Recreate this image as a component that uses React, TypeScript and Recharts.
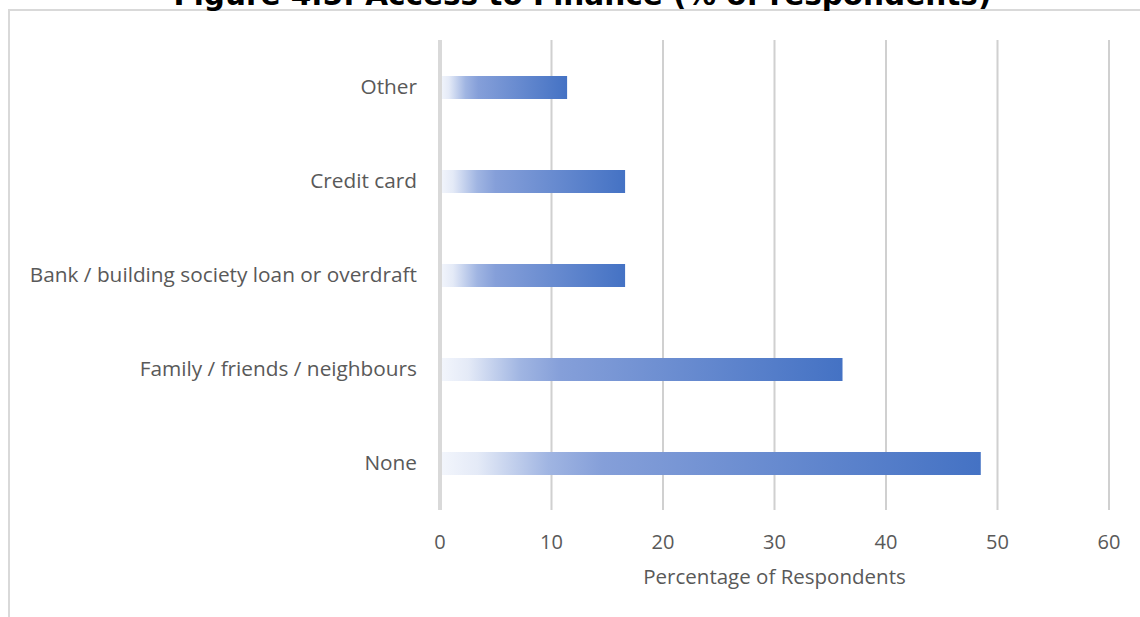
import React from "react";
import { BarChart, Bar, XAxis, YAxis, CartesianGrid, Label } from "recharts";

const categories = [
  "Other",
  "Credit card",
  "Bank / building society loan or overdraft",
  "Family / friends / neighbours",
  "None",
];
const percentages = [11.4, 16.6, 16.6, 36.1, 48.5];
const xTicks = [0, 10, 20, 30, 40, 50, 60];

const titleText = "Figure 4.5: Access to Finance (% of respondents)";
const xAxisTitle = "Percentage of Respondents";

const data = categories.map((c, i) => ({ name: c, value: percentages[i] }));

const FONT = "'Open Sans', 'Noto Sans', sans-serif";

export default function App() {
  return (
    <div
      style={{
        position: "absolute",
        left: 0,
        top: 0,
        width: 1140,
        height: 617,
        overflow: "hidden",
        background: "#ffffff",
      }}
    >
      <div
        style={{
          position: "absolute",
          left: 8,
          top: 9,
          width: 1200,
          height: 700,
          borderLeft: "2px solid #d9d9d9",
          borderTop: "2px solid #d9d9d9",
        }}
      />
      <div
        style={{
          position: "absolute",
          left: 0,
          top: -23,
          width: 1165,
          textAlign: "center",
          fontFamily: "'DejaVu Sans', sans-serif",
          fontWeight: "bold",
          fontSize: 29.5,
          lineHeight: "36px",
          whiteSpace: "nowrap",
          color: "#000",
        }}
      >
        {titleText}
      </div>
      <div style={{ position: "absolute", left: 0, top: 0 }}>
        <BarChart
          width={1140}
          height={617}
          data={data}
          layout="vertical"
          margin={{ top: 40, right: 31, bottom: 27, left: 10 }}
          barCategoryGap={0}
        >
          <defs>
            <linearGradient id="barGrad" x1="0" y1="0" x2="1" y2="0">
              <stop offset="0" stopColor="#f3f6fc" />
              <stop offset="0.07" stopColor="#e4eaf7" />
              <stop offset="0.2" stopColor="#a0b5e2" />
              <stop offset="0.3" stopColor="#859fd9" />
              <stop offset="1" stopColor="#4472c4" />
            </linearGradient>
          </defs>
          <CartesianGrid
            horizontal={false}
            vertical={true}
            stroke="#d0d0d0"
            strokeWidth={2}
          />
          <XAxis
            type="number"
            domain={[0, 60]}
            ticks={xTicks}
            axisLine={false}
            tickLine={false}
            tickMargin={19}
            height={80}
            tick={{ fill: "#595959", fontSize: 20, fontFamily: FONT }}
          >
            <Label
              value={xAxisTitle}
              position="insideBottom"
              offset={6}
              style={{ fill: "#595959", fontSize: 20.5, fontFamily: FONT }}
            />
          </XAxis>
          <YAxis
            type="category"
            dataKey="name"
            width={430}
            axisLine={{ stroke: "#d9d9d9", strokeWidth: 4 }}
            tickLine={false}
            tickMargin={17}
            tick={{ fill: "#595959", fontSize: 20.8, fontFamily: FONT }}
          />
          <Bar
            dataKey="value"
            fill="url(#barGrad)"
            barSize={23}
            isAnimationActive={false}
          />
        </BarChart>
      </div>
    </div>
  );
}
